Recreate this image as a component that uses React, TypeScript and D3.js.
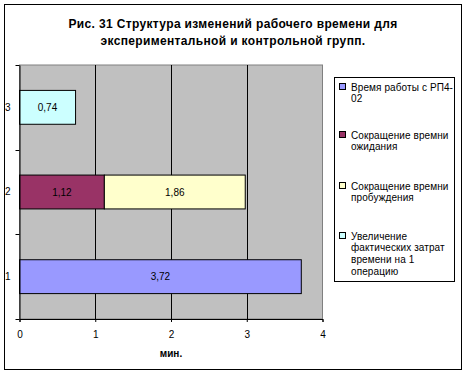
import React, { useRef, useEffect } from 'react';
import * as d3 from 'd3';

// categories (bottom to top) and series values
const categories = ['1', '2', '3'];
const workTime = [3.72, 0, 0];
const waitReduction = [0, 1.12, 0];
const wakeReduction = [0, 1.86, 0];
const costIncrease = [0, 0, 0.74];
const xTicks = [0, 1, 2, 3, 4];

const seriesNames = [
  ['Время работы с РП4-', '02'],
  ['Сокращение времни', 'ожидания'],
  ['Сокращение времни', 'пробуждения'],
  ['Увеличение', 'фактических затрат', 'времени на 1', 'операцию'],
];
const seriesColors = ['#9999FF', '#993366', '#FFFFCC', '#CCFFFF'];

const titleLines = [
  'Рис. 31 Структура изменений  рабочего времени для',
  'экспериментальной и контрольной групп.',
];

const W = 467;
const H = 374;

const App = () => {
  const ref = useRef<SVGSVGElement>(null);

  useEffect(() => {
    const svg = d3.select(ref.current);
    svg.selectAll('*').remove();
    const font = 'Arial, "Liberation Sans", sans-serif';

    const plot = { left: 19.5, right: 322.5, top: 65, bottom: 319 };

    const x = d3.scaleLinear().domain([0, 4]).range([plot.left, plot.right]);
    const y = d3.scaleBand<string>()
      .domain(categories.slice().reverse())
      .range([plot.top, plot.bottom])
      .paddingInner(0.6)
      .paddingOuter(0.3);

    // outer frame
    svg.append('rect')
      .attr('x', 4.5).attr('y', 4.5)
      .attr('width', 457).attr('height', 365)
      .attr('fill', '#fff').attr('stroke', '#000');

    // title
    svg.append('text')
      .attr('text-anchor', 'middle')
      .attr('font-family', font).attr('font-size', 12).attr('font-weight', 'bold')
      .attr('letter-spacing', 0.35)
      .selectAll('tspan').data(titleLines).join('tspan')
      .attr('x', 233)
      .attr('y', (d, i) => 27.5 + i * 17)
      .text(d => d);

    // plot area
    svg.append('rect')
      .attr('x', plot.left).attr('y', plot.top)
      .attr('width', plot.right - plot.left).attr('height', plot.bottom - plot.top)
      .attr('fill', '#C0C0C0').attr('stroke', '#808080');

    // gridlines
    svg.append('g').selectAll('line').data(xTicks.slice(1, -1)).join('line')
      .attr('x1', d => Math.round(x(d)) + 0.5).attr('x2', d => Math.round(x(d)) + 0.5)
      .attr('y1', plot.top).attr('y2', plot.bottom)
      .attr('stroke', '#000');

    // stacked bars
    const table = categories.map((c, i) => ({
      cat: c,
      s0: workTime[i],
      s1: waitReduction[i],
      s2: wakeReduction[i],
      s3: costIncrease[i],
    }));
    const stack = d3.stack<any>().keys(['s0', 's1', 's2', 's3'])(table);

    stack.forEach((layer, li) => {
      const g = svg.append('g');
      const segs = layer.filter(d => d[1] - d[0] > 0);
      g.selectAll('rect').data(segs).join('rect')
        .attr('x', d => x(d[0]))
        .attr('y', d => (y(d.data.cat) as number))
        .attr('width', d => x(d[1]) - x(d[0]))
        .attr('height', y.bandwidth())
        .attr('fill', seriesColors[li])
        .attr('stroke', '#000');
      g.selectAll('text').data(segs).join('text')
        .attr('x', d => (x(d[0]) + x(d[1])) / 2)
        .attr('y', d => (y(d.data.cat) as number) + y.bandwidth() / 2 + 3.5)
        .attr('text-anchor', 'middle')
        .attr('font-family', font).attr('font-size', 10)
        .text(d => d3.format('.2f')(d[1] - d[0]).replace('.', ','));
    });

    // x axis
    const xAxis = svg.append('g')
      .attr('transform', `translate(0,${plot.bottom})`)
      .call(d3.axisBottom(x).tickValues(xTicks).tickSize(3).tickPadding(9).tickFormat(d3.format('d')));
    xAxis.select('.domain').attr('stroke', '#000');
    xAxis.selectAll('text').attr('font-family', font).attr('font-size', 10).attr('fill', '#000');

    svg.append('text')
      .attr('x', 171).attr('y', 357)
      .attr('text-anchor', 'middle')
      .attr('font-family', font).attr('font-size', 10).attr('font-weight', 'bold')
      .text('мин.');

    // y axis
    const yAxis = svg.append('g')
      .attr('transform', `translate(${plot.left},0)`)
      .call(d3.axisLeft(y).tickSize(0).tickPadding(9));
    yAxis.select('.domain').attr('stroke', '#000');
    yAxis.selectAll('text').attr('font-family', font).attr('font-size', 10).attr('fill', '#000');

    // y tick marks at band boundaries
    const step = y.step();
    const bounds = d3.range(categories.length + 1).map(i => plot.top + i * step);
    svg.append('g').selectAll('line').data(bounds).join('line')
      .attr('x1', plot.left - 4).attr('x2', plot.left)
      .attr('y1', d => Math.round(d) + 0.5).attr('y2', d => Math.round(d) + 0.5)
      .attr('stroke', '#000');

    // legend
    const lg = svg.append('g');
    lg.append('rect')
      .attr('x', 334.5).attr('y', 77.5)
      .attr('width', 120).attr('height', 204)
      .attr('fill', '#fff').attr('stroke', '#000');
    const itemY = [87, 135, 186, 236];
    seriesNames.forEach((lines, i) => {
      lg.append('rect')
        .attr('x', 339.5).attr('y', itemY[i] - 3.5)
        .attr('width', 6).attr('height', 6)
        .attr('fill', seriesColors[i]).attr('stroke', '#000');
      lg.append('text')
        .attr('font-family', font).attr('font-size', 10)
        .attr('letter-spacing', 0.1)
        .selectAll('tspan').data(lines).join('tspan')
        .attr('x', 351)
        .attr('y', (d, j) => itemY[i] + 3.5 + j * 11.8)
        .text(d => d);
    });
  }, []);

  return (
    <svg ref={ref} width={W} height={H}
      style={{ position: 'absolute', left: 0, top: 0, display: 'block' }} />
  );
};

export default App;
